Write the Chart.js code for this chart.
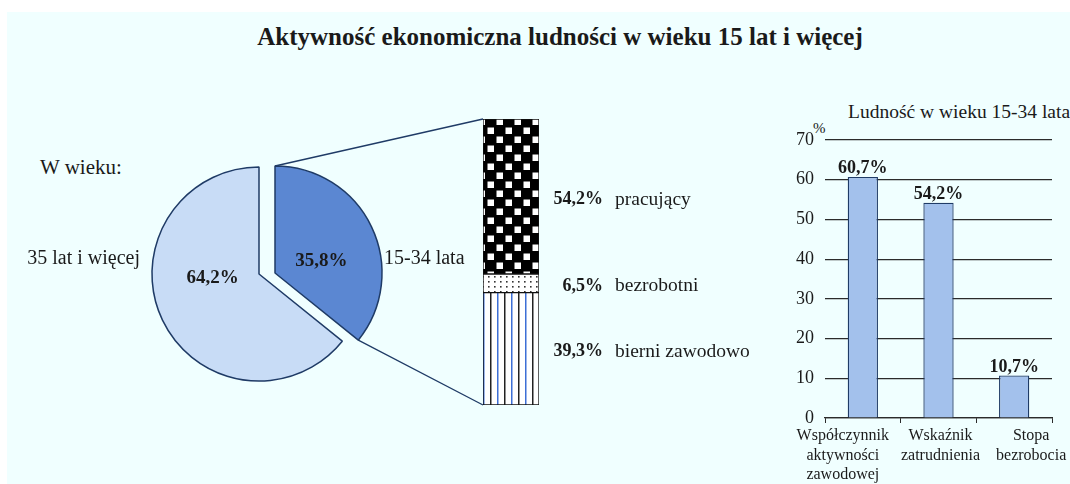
<!DOCTYPE html>
<html lang="pl">
<head>
<meta charset="utf-8">
<script src="https://cdn.jsdelivr.net/npm/chart.js@4"></script>
<style>
  body { margin: 0; width: 1070px; height: 484px; background: #fff; position: relative; overflow: hidden;
         font-family: 'Liberation Serif', 'DejaVu Serif', serif; color: #1a1a1a; }
  #panel { position: absolute; left: 7px; top: 12px; right: 0; bottom: 0; background: #f0ffff; }
  canvas { position: absolute; top: 0; }
  #pieCanvas, #stackCanvas { left: 0; }
  #rateCanvas { left: 760px; }
  .txt { position: absolute; white-space: nowrap; line-height: 1; }
  #title { left: 60px; width: 1000px; top: 24px; text-align: center; font-weight: bold; font-size: 25px; }
  #ageNote { left: 40px; top: 157px; font-size: 21px; }
  #rateTitle { left: 848px; top: 102px; font-size: 19.5px; }
  #pct { left: 813px; top: 121px; font-size: 15px; }
</style>
</head>
<body>
<div id="panel"></div>
<div class="txt" id="title">Aktywność ekonomiczna ludności w wieku 15 lat i więcej</div>
<div class="txt" id="ageNote">W wieku:</div>
<div class="txt" id="rateTitle">Ludność w wieku 15-34 lata</div>
<div class="txt" id="pct">%</div>
<canvas id="pieCanvas" width="760" height="484"></canvas>
<canvas id="stackCanvas" width="760" height="484"></canvas>
<canvas id="rateCanvas" width="310" height="484"></canvas>
<script>
// pie: population by age
const ageLabels = ['15-34 lata', '35 lat i więcej'];
const ageShares = [35.8, 64.2];

// breakdown of the 15-34 group (bottom to top)
const statusLabels = ['bierni zawodowo', 'bezrobotni', 'pracujący'];
const statusShares = [39.3, 6.5, 54.2];

// rates for 15-34
const rateLabels = [['Współczynnik', 'aktywności', 'zawodowej'], ['Wskaźnik', 'zatrudnienia'], ['Stopa', 'bezrobocia']];
const rateValues = [60.7, 54.2, 10.7];
const rateTicks = [0, 10, 20, 30, 40, 50, 60, 70];

const SERIF = "'Liberation Serif', 'DejaVu Serif', serif";
const NAVY = '#1f3b66';
Chart.defaults.font.family = SERIF;
Chart.defaults.color = '#1a1a1a';

const fmt = v => v.toFixed(1).replace('.', ',') + '%';

function makePattern(w, h, draw) {
    const c = document.createElement('canvas');
    c.width = w; c.height = h;
    const g = c.getContext('2d');
    draw(g);
    return c.getContext('2d').createPattern(c, 'repeat');
}

const stripes = makePattern(14, 4, g => {
    g.fillStyle = '#fff'; g.fillRect(0, 0, 14, 4);
    g.fillStyle = '#222'; g.fillRect(0, 0, 1.5, 4);
    g.fillStyle = '#3d6fd6'; g.fillRect(7, 0, 1.5, 4);
});
const dots = makePattern(6, 5, g => {
    g.fillStyle = '#fff'; g.fillRect(0, 0, 6, 5);
    g.fillStyle = '#333'; g.fillRect(2, 1, 1.6, 1.6);
});
const checker = makePattern(18, 18, g => {
    g.fillStyle = '#000'; g.fillRect(0, 0, 18, 18);
    g.fillStyle = '#fff';
    g.fillRect(1.5, 1.5, 6.5, 6.5);
    g.fillRect(10.5, 10.5, 6.5, 6.5);
});
const statusFills = [stripes, dots, checker];

// the exploded slice is pulled straight to the right (Excel style), not along its bisector
const sliceShift = [[16, -1], [0, 0]];
const insideLabelDy = [-13, 4];

class ShiftedPieController extends Chart.PieController {
    static id = 'shiftedPie';
    draw() {
        const ctx = this.chart.ctx;
        const area = this.chart.chartArea;
        this._cachedMeta.data.forEach((arc, i) => {
            ctx.save();
            ctx.translate(sliceShift[i][0], sliceShift[i][1]);
            arc.draw(ctx, area);
            ctx.restore();
        });
    }
}
Chart.register(ShiftedPieController);

function arcGeom(arc, i) {
    const p = arc.getProps(['x', 'y', 'startAngle', 'endAngle', 'outerRadius'], true);
    return {
        cx: p.x + sliceShift[i][0],
        cy: p.y + sliceShift[i][1],
        r: p.outerRadius,
        x0: p.x, y0: p.y,
        mid: (p.startAngle + p.endAngle) / 2,
        start: p.startAngle, end: p.endAngle
    };
}

const pieLabels = {
    id: 'pieLabels',
    afterDatasetsDraw(chart) {
        const ctx = chart.ctx;
        ctx.save();
        ctx.fillStyle = '#1a1a1a';
        ctx.textBaseline = 'middle';
        chart.getDatasetMeta(0).data.forEach((arc, i) => {
            const g = arcGeom(arc, i);
            ctx.font = 'bold 19px ' + SERIF;
            ctx.textAlign = 'center';
            ctx.fillText(fmt(ageShares[i]), g.cx + Math.cos(g.mid) * g.r * 0.48, g.y0 + insideLabelDy[i]);
            ctx.font = '20px ' + SERIF;
            const right = Math.cos(g.mid) > 0;
            ctx.textAlign = right ? 'left' : 'right';
            ctx.fillText(ageLabels[i], right ? g.cx + g.r + 2 : g.cx - g.r - 12, g.y0 - 15);
        });
        ctx.restore();
    }
};

const pieChart = new Chart(document.getElementById('pieCanvas'), {
    type: 'shiftedPie',
    data: {
        labels: ageLabels,
        datasets: [{
            data: ageShares,
            backgroundColor: ['#5b87d2', '#c8dcf6'],
            borderColor: NAVY,
            borderWidth: 1.5
        }]
    },
    options: {
        responsive: false,
        animation: false,
        radius: 107,
        layout: { padding: { left: 151, right: 393, top: 166, bottom: 102 } },
        plugins: { legend: { display: false }, tooltip: { enabled: false } }
    },
    plugins: [pieLabels]
});

const connectors = {
    id: 'connectors',
    afterDraw(chart) {
        const ctx = chart.ctx;
        const g = arcGeom(pieChart.getDatasetMeta(0).data[0], 0);
        const top = chart.getDatasetMeta(2).data[0];
        const bottom = chart.getDatasetMeta(0).data[0];
        const left = top.x - top.width / 2;
        ctx.save();
        ctx.strokeStyle = NAVY;
        ctx.lineWidth = 1.3;
        ctx.beginPath();
        ctx.moveTo(g.cx + Math.cos(g.start) * g.r, g.cy + Math.sin(g.start) * g.r);
        ctx.lineTo(left, top.y);
        ctx.moveTo(g.cx + Math.cos(g.end) * g.r, g.cy + Math.sin(g.end) * g.r);
        ctx.lineTo(left, bottom.base);
        ctx.stroke();
        ctx.restore();
    }
};

const stackLabels = {
    id: 'stackLabels',
    afterDatasetsDraw(chart) {
        const ctx = chart.ctx;
        ctx.save();
        ctx.fillStyle = '#1a1a1a';
        ctx.textBaseline = 'middle';
        statusLabels.forEach((lab, i) => {
            const bar = chart.getDatasetMeta(i).data[0];
            const right = bar.x + bar.width / 2;
            const y = (bar.y + bar.base) / 2 + 3;
            ctx.font = 'bold 18px ' + SERIF;
            ctx.textAlign = 'right';
            ctx.fillText(fmt(statusShares[i]), right + 64, y);
            ctx.font = '19.5px ' + SERIF;
            ctx.textAlign = 'left';
            ctx.fillText(lab, right + 76, y);
        });
        ctx.restore();
    }
};

const stackChart = new Chart(document.getElementById('stackCanvas'), {
    type: 'bar',
    data: {
        labels: ['15-34 lata'],
        datasets: statusLabels.map((lab, i) => ({
            label: lab,
            data: [statusShares[i]],
            backgroundColor: statusFills[i],
            borderColor: '#111',
            borderWidth: 1,
            borderSkipped: false,
            barPercentage: 1,
            categoryPercentage: 1
        }))
    },
    options: {
        responsive: false,
        animation: false,
        layout: { padding: { left: 483, right: 221, top: 119, bottom: 79 } },
        scales: {
            x: { stacked: true, display: false },
            y: { stacked: true, display: false, min: 0, max: 100 }
        },
        plugins: { legend: { display: false }, tooltip: { enabled: false } }
    },
    plugins: [connectors, stackLabels]
});

// category labels, nudged sideways like the original so they do not collide
const labelShift = [-20, 2, 17];
const barValues = {
    id: 'barValues',
    afterDatasetsDraw(chart) {
        const ctx = chart.ctx;
        ctx.save();
        ctx.font = 'bold 18px ' + SERIF;
        ctx.fillStyle = '#1a1a1a';
        ctx.textAlign = 'center';
        ctx.textBaseline = 'alphabetic';
        chart.getDatasetMeta(0).data.forEach((bar, i) => {
            ctx.fillText(fmt(rateValues[i]), bar.x, bar.y - 4);
        });
        const xs = chart.scales.x;
        ctx.font = '16px ' + SERIF;
        ctx.textBaseline = 'middle';
        rateLabels.forEach((lines, i) => {
            const x = xs.getPixelForTick(i) + labelShift[i];
            lines.forEach((line, k) => ctx.fillText(line, x, xs.top + 18 + k * 19.5));
        });
        ctx.restore();
    }
};

const rateChart = new Chart(document.getElementById('rateCanvas'), {
    type: 'bar',
    data: {
        labels: rateLabels,
        datasets: [{
            data: rateValues,
            backgroundColor: '#a3c1ec',
            borderColor: NAVY,
            borderWidth: 1.3,
            barPercentage: 0.4,
            categoryPercentage: 1
        }]
    },
    options: {
        responsive: false,
        animation: false,
        layout: { padding: { left: 25, right: 18, top: 140, bottom: 6 } },
        scales: {
            y: {
                min: rateTicks[0],
                max: rateTicks[rateTicks.length - 1],
                afterBuildTicks: s => { s.ticks = rateTicks.map(v => ({ value: v })); },
                afterFit: s => { s.width = 40; },
                border: { display: false },
                grid: { color: '#2b2b2b', lineWidth: 1.2, drawTicks: false },
                ticks: { padding: 11, color: '#1a1a1a', font: { size: 18 } }
            },
            x: {
                afterFit: s => { s.height = 60; },
                border: { display: true, color: '#2b2b2b', width: 1.2 },
                grid: { offset: true, drawOnChartArea: false, tickLength: 5, color: '#2b2b2b' },
                ticks: { display: false }
            }
        },
        plugins: { legend: { display: false }, tooltip: { enabled: false } }
    },
    plugins: [barValues]
});
</script>
</body>
</html>
